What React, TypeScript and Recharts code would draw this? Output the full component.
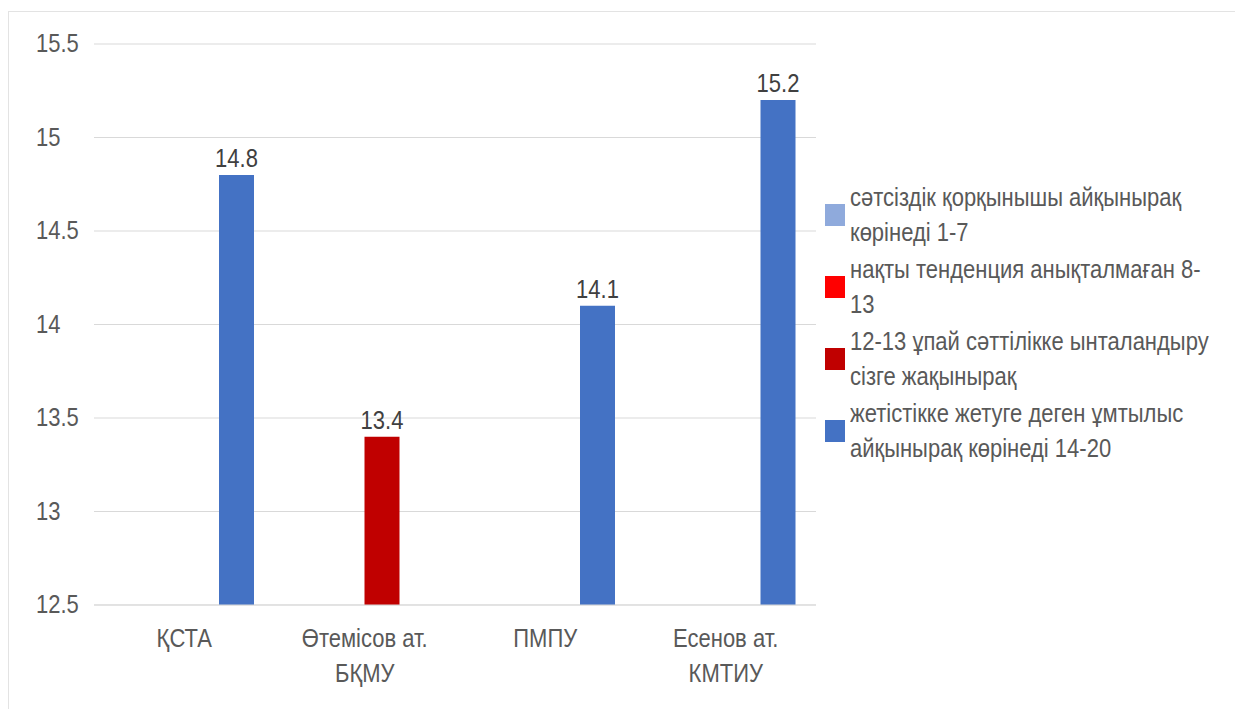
import { BarChart, Bar, XAxis, YAxis, CartesianGrid, Legend, LabelList } from "recharts";

const categories = ["ҚСТА", "Өтемісов ат. БҚМУ", "ПМПУ", "Есенов ат. КМТИУ"];
const categoryLines = [["ҚСТА"], ["Өтемісов ат.", "БҚМУ"], ["ПМПУ"], ["Есенов ат.", "КМТИУ"]];

const seriesNames = [
  "сәтсіздік қорқынышы айқынырақ көрінеді 1-7",
  "нақты тенденция анықталмаған 8-13",
  "12-13 ұпай сәттілікке ынталандыру сізге жақынырақ",
  "жетістікке жетуге деген ұмтылыс айқынырақ көрінеді 14-20",
];
const legendLines = [
  ["сәтсіздік қорқынышы айқынырақ", "көрінеді 1-7"],
  ["нақты тенденция анықталмаған 8-", "13"],
  ["12-13 ұпай сәттілікке ынталандыру", "сізге жақынырақ"],
  ["жетістікке жетуге деген ұмтылыс", "айқынырақ көрінеді 14-20"],
];
const seriesColors = ["#8FAADC", "#FF0000", "#C00000", "#4472C4"];

const fearValues: (number | null)[] = [null, null, null, null];
const unclearValues: (number | null)[] = [null, null, null, null];
const motivationValues: (number | null)[] = [null, 13.4, null, null];
const achievementValues: (number | null)[] = [14.8, null, 14.1, 15.2];

const yTicks = [12.5, 13, 13.5, 14, 14.5, 15, 15.5];

const FONT = "'Liberation Sans', Arial, sans-serif";
const SQUEEZE = 0.88;

const data = categories.map((name, i) => ({
  name,
  s1: fearValues[i],
  s2: unclearValues[i],
  s3: motivationValues[i],
  s4: achievementValues[i],
}));

const YTick = (props: any) => {
  const { y, payload } = props;
  return (
    <text
      transform={`translate(27 ${y}) scale(${SQUEEZE} 1)`}
      textAnchor="start"
      dominantBaseline="central"
      fill="#595959"
      fontSize={25}
      fontFamily={FONT}
    >
      {payload.value}
    </text>
  );
};

const XTick = (props: any) => {
  const { x, y, payload } = props;
  const lines = categoryLines[payload.index] ?? [payload.value];
  return (
    <text
      transform={`translate(${x} ${y + 34}) scale(${SQUEEZE} 1)`}
      textAnchor="middle"
      fill="#595959"
      fontSize={25}
      fontFamily={FONT}
    >
      {lines.map((l, i) => (
        <tspan key={i} x={0} dy={i === 0 ? 0 : 35}>
          {l}
        </tspan>
      ))}
    </text>
  );
};

const ValueLabel = (props: any) => {
  const { x, y, width, value } = props;
  if (value == null) return null;
  return (
    <text
      transform={`translate(${x + width / 2} ${y - 8}) scale(${SQUEEZE} 1)`}
      textAnchor="middle"
      fill="#404040"
      fontSize={25}
      fontFamily={FONT}
    >
      {value}
    </text>
  );
};

const LegendContent = () => (
  <div style={{ width: 405, fontFamily: FONT, fontSize: 25, color: "#595959" }}>
    {legendLines.map((lines, i) => (
      <div key={i} style={{ display: "flex", alignItems: "center", height: 72, paddingLeft: 5 }}>
        <div style={{ width: 20, height: 22, background: seriesColors[i], marginRight: 5, flexShrink: 0 }} />
        <div style={{ lineHeight: "35px", transform: `scaleX(${SQUEEZE})`, transformOrigin: "left center" }}>
          {lines.map((l, j) => (
            <div key={j} style={{ whiteSpace: "nowrap" }}>{l}</div>
          ))}
        </div>
      </div>
    ))}
  </div>
);

export default function App() {
  return (
    <div
      style={{
        position: "relative",
        top: 3,
        width: 1226,
        height: 700,
        borderTop: "1px solid #e3e3e3",
        borderLeft: "1px solid #e3e3e3",
        background: "#fff",
      }}
    >
      <BarChart
        width={1226}
        height={700}
        data={data}
        margin={{ top: 32, right: 14, bottom: 0, left: 0 }}
        barCategoryGap={20}
        barGap={0}
      >
        <CartesianGrid vertical={false} stroke="#d9d9d9" />
        <XAxis
          dataKey="name"
          height={107}
          tickLine={false}
          axisLine={{ stroke: "#d9d9d9" }}
          tick={<XTick />}
          interval={0}
        />
        <YAxis
          width={85}
          domain={[12.5, 15.5]}
          ticks={yTicks}
          axisLine={false}
          tickLine={false}
          tick={<YTick />}
          allowDataOverflow
        />
        <Legend
          layout="vertical"
          align="right"
          verticalAlign="top"
          content={<LegendContent />}
          wrapperStyle={{ left: 811, top: 167, width: 405 }}
        />
        {["s1", "s2", "s3", "s4"].map((key, i) => (
          <Bar key={key} dataKey={key} name={seriesNames[i]} fill={seriesColors[i]} isAnimationActive={false}>
            <LabelList dataKey={key} content={<ValueLabel />} />
          </Bar>
        ))}
      </BarChart>
    </div>
  );
}
